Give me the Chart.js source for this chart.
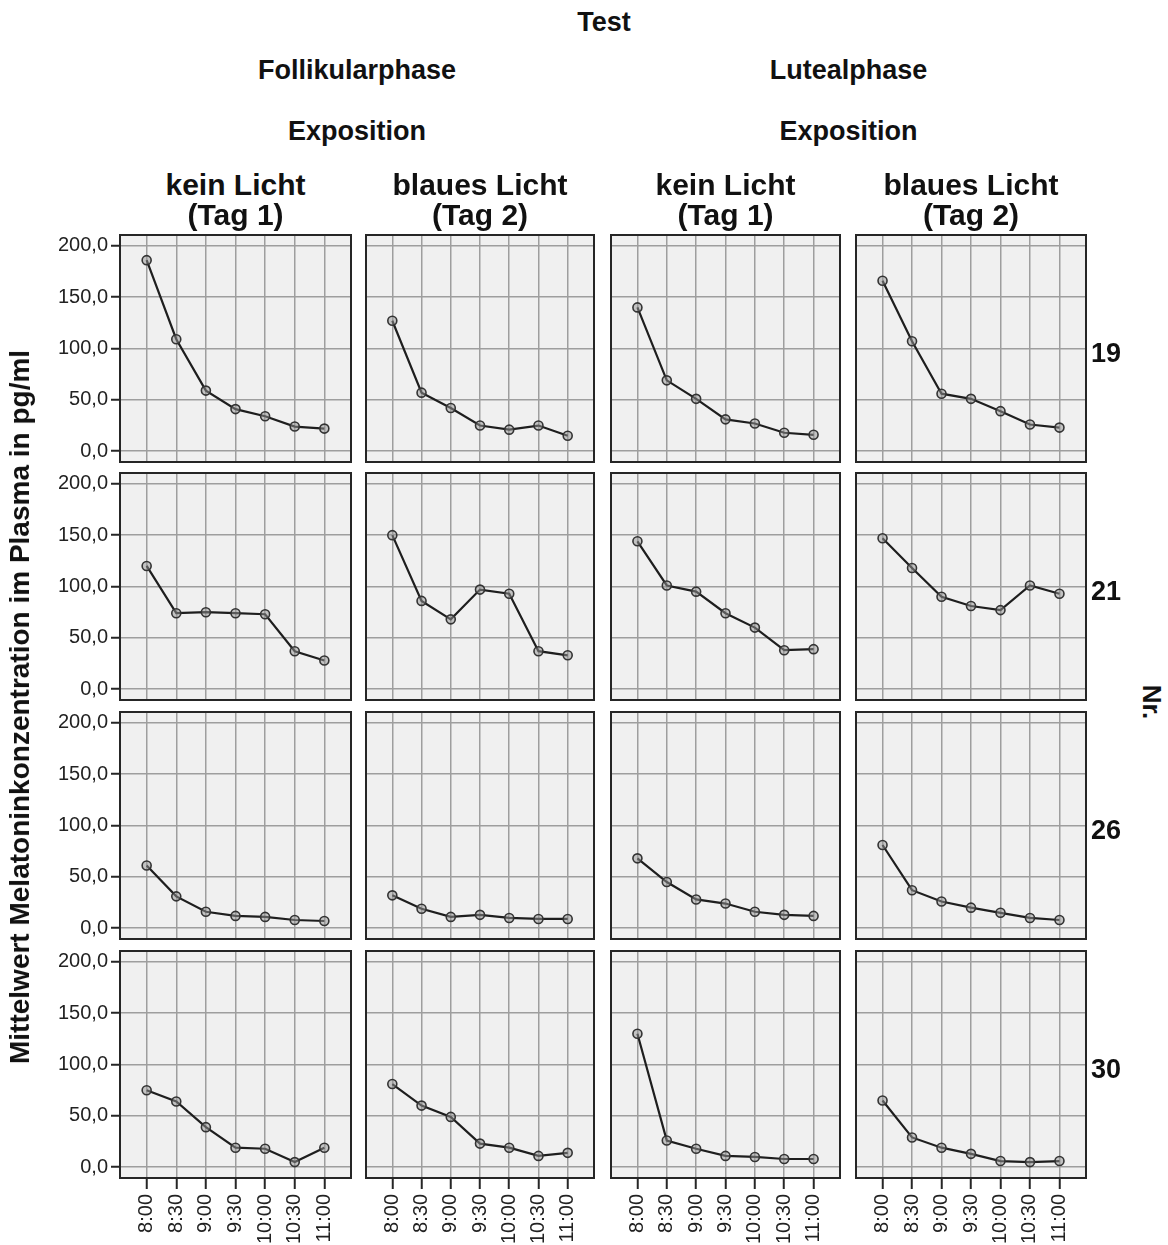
<!DOCTYPE html>
<html>
<head>
<meta charset="utf-8">
<script src="https://cdn.jsdelivr.net/npm/chart.js@4.4.1/dist/chart.umd.min.js"></script>
<style>
  html, body { margin:0; padding:0; background:#fff; }
  #wrap { position:relative; width:1168px; height:1245px; overflow:hidden; font-family:"Liberation Sans", Arial, sans-serif; color:#111; }
  .t { position:absolute; white-space:nowrap; font-weight:bold; transform:translate(-50%,-50%); line-height:1; }
  canvas { position:absolute; }
</style>
</head>
<body>
<div id="wrap"></div>
<script>
// ---- data ----
const timeLabels = ['8:00','8:30','9:00','9:30','10:00','10:30','11:00'];
const yTickValues = [0, 50, 100, 150, 200];
const phases = ['Follikularphase', 'Lutealphase'];
const exposureLines = [['kein Licht','(Tag 1)'], ['blaues Licht','(Tag 2)'], ['kein Licht','(Tag 1)'], ['blaues Licht','(Tag 2)']];
const participants = ['19', '21', '26', '30'];

const nr19_follikel_kein  = [186, 109, 59, 41, 34, 24, 22];
const nr19_follikel_blau  = [127, 57, 42, 25, 21, 25, 15];
const nr19_luteal_kein    = [140, 69, 51, 31, 27, 18, 16];
const nr19_luteal_blau    = [166, 107, 56, 51, 39, 26, 23];

const nr21_follikel_kein  = [120, 74, 75, 74, 73, 37, 28];
const nr21_follikel_blau  = [150, 86, 68, 97, 93, 37, 33];
const nr21_luteal_kein    = [144, 101, 95, 74, 60, 38, 39];
const nr21_luteal_blau    = [147, 118, 90, 81, 77, 101, 93];

const nr26_follikel_kein  = [61, 31, 16, 12, 11, 8, 7];
const nr26_follikel_blau  = [32, 19, 11, 13, 10, 9, 9];
const nr26_luteal_kein    = [68, 45, 28, 24, 16, 13, 12];
const nr26_luteal_blau    = [81, 37, 26, 20, 15, 10, 8];

const nr30_follikel_kein  = [75, 64, 39, 19, 18, 5, 19];
const nr30_follikel_blau  = [81, 60, 49, 23, 19, 11, 14];
const nr30_luteal_kein    = [130, 26, 18, 11, 10, 8, 8];
const nr30_luteal_blau    = [65, 29, 19, 13, 6, 5, 6];

const grid = [
  [nr19_follikel_kein, nr19_follikel_blau, nr19_luteal_kein, nr19_luteal_blau],
  [nr21_follikel_kein, nr21_follikel_blau, nr21_luteal_kein, nr21_luteal_blau],
  [nr26_follikel_kein, nr26_follikel_blau, nr26_luteal_kein, nr26_luteal_blau],
  [nr30_follikel_kein, nr30_follikel_blau, nr30_luteal_kein, nr30_luteal_blau]
];

// ---- layout ----
const colLeft = [120, 366, 611, 856];
const colW = [231, 228, 229, 230];
const rowTop = [235, 473, 712, 951];
const rowH = 227;
const xPad = 0.9;
const yMin = -10.5, yMax = 210.5;
const W = 1168, H = 1245;
const M = 16; // canvas margin around plot area
const FONT = '"Liberation Sans", Arial, sans-serif';

const wrap = document.getElementById('wrap');
function addText(txt, x, y, size, extra) {
  const d = document.createElement('div');
  d.className = 't';
  d.textContent = txt;
  d.style.left = x + 'px';
  d.style.top = y + 'px';
  d.style.fontSize = size + 'px';
  if (extra) d.style.transform = 'translate(-50%,-50%) ' + extra;
  wrap.appendChild(d);
}

const frame = {
  id: 'frame',
  beforeDraw(chart) {
    const a = chart.chartArea, c = chart.ctx;
    c.save(); c.fillStyle = '#f0f0f0';
    c.fillRect(a.left, a.top, a.right - a.left, a.bottom - a.top);
    c.restore();
  },
  afterDraw(chart) {
    const a = chart.chartArea, c = chart.ctx;
    c.save(); c.strokeStyle = '#262626'; c.lineWidth = 2;
    c.strokeRect(a.left, a.top, a.right - a.left, a.bottom - a.top);
    c.restore();
  }
};

for (let r = 0; r < 4; r++) {
  for (let c = 0; c < 4; c++) {
    const plotL = colLeft[c], plotR = colLeft[c] + colW[c];
    const plotT = rowTop[r], plotB = rowTop[r] + rowH;
    const cl = c === 0 ? 0 : plotL - M;
    const leftW = plotL - cl;
    const cw = plotR + M - cl;
    const ct = plotT - M;
    const cb = r === 3 ? H : plotB + M;
    const bottomH = cb - plotB;
    const ch = cb - ct;
    const cv = document.createElement('canvas');
    cv.width = cw; cv.height = ch;
    cv.style.left = cl + 'px'; cv.style.top = ct + 'px';
    cv.style.width = cw + 'px'; cv.style.height = ch + 'px';
    wrap.appendChild(cv);
    const vals = grid[r][c];
    const showY = c === 0, showX = r === 3;
    new Chart(cv.getContext('2d'), {
      type: 'line',
      data: {
        datasets: [{
          data: vals.map((v, i) => ({ x: i, y: v })),
          borderColor: '#1e1e1e', borderWidth: 2.2, tension: 0,
          pointRadius: 4.5, pointBorderWidth: 1.6,
          pointBorderColor: '#333', pointBackgroundColor: 'rgba(150,150,150,0.5)'
        }]
      },
      options: {
        responsive: false, animation: false, devicePixelRatio: 1,
        layout: { padding: { top: M, right: M, left: 0, bottom: 0 } },
        plugins: { legend: { display: false }, tooltip: { enabled: false } },
        scales: {
          x: {
            type: 'linear', min: -xPad, max: 6 + xPad,
            afterBuildTicks: ax => { ax.ticks = timeLabels.map((_, i) => ({ value: i })); },
            afterFit: ax => { ax.height = bottomH; },
            border: { display: false },
            grid: { color: '#9e9e9e', lineWidth: 1.5, drawTicks: showX, tickLength: 11, tickColor: '#262626', tickWidth: 2 },
            ticks: { display: showX, autoSkip: false, minRotation: 90, maxRotation: 90, padding: 5,
              color: '#222', font: { family: FONT, size: 20 },
              callback: v => timeLabels[v] }
          },
          y: {
            type: 'linear', min: yMin, max: yMax,
            afterBuildTicks: ax => { ax.ticks = yTickValues.map(v => ({ value: v })); },
            afterFit: ax => { ax.width = leftW; },
            border: { display: false },
            grid: { color: '#9e9e9e', lineWidth: 1.5, drawTicks: showY, tickLength: 9, tickColor: '#262626', tickWidth: 2 },
            ticks: { display: showY, padding: 3, color: '#222', font: { family: FONT, size: 20 },
              callback: v => v.toFixed(1).replace('.', ',') }
          }
        }
      },
      plugins: [frame]
    });
  }
}

// ---- headings ----
addText('Test', 604, 22, 27);
addText(phases[0], (colLeft[0] + colLeft[1] + colW[1]) / 2, 70, 27);
addText(phases[1], (colLeft[2] + colLeft[3] + colW[3]) / 2, 70, 27);
addText('Exposition', (colLeft[0] + colLeft[1] + colW[1]) / 2, 131, 27);
addText('Exposition', (colLeft[2] + colLeft[3] + colW[3]) / 2, 131, 27);
for (let c = 0; c < 4; c++) {
  const cx = colLeft[c] + colW[c] / 2;
  addText(exposureLines[c][0], cx, 185, 30);
  addText(exposureLines[c][1], cx, 215, 30);
}
for (let r = 0; r < 4; r++) {
  addText(participants[r], 1106, rowTop[r] + rowH / 2 + 4, 27);
}
addText('Nr.', 1152, 702, 26, 'rotate(90deg)');
addText('Mittelwert Melatoninkonzentration im Plasma in pg/ml', 20, 707, 28, 'rotate(-90deg)');
</script>
</body>
</html>
